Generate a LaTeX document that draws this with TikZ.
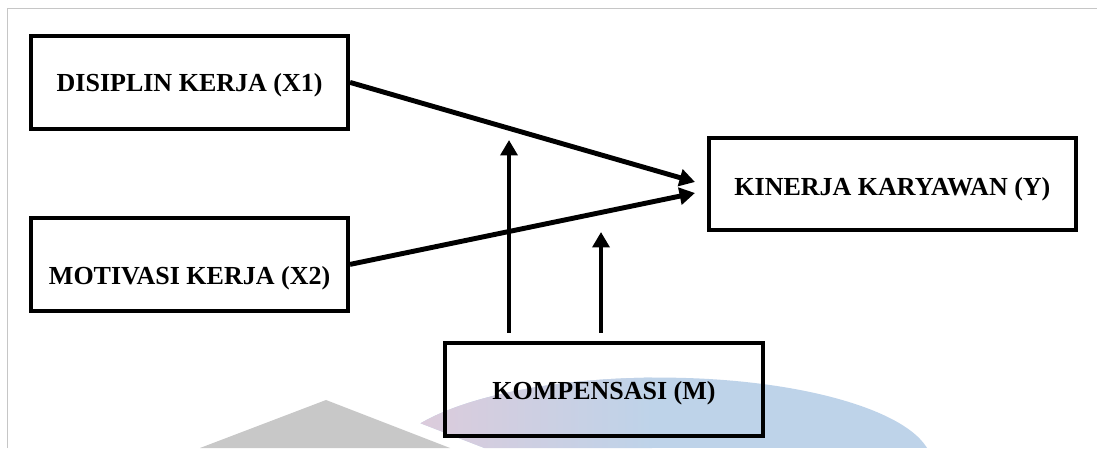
\documentclass[tikz,border=0pt]{standalone}
\usepackage{fontspec}
\setmainfont{Liberation Serif}
\usetikzlibrary{arrows.meta}
\definecolor{wmgray}{RGB}{200,200,200}
\definecolor{wmpink}{RGB}{221,203,219}
\definecolor{wmblue}{RGB}{190,211,233}
\begin{document}
\begin{tikzpicture}[
    box/.style={draw, line width=2.6pt, minimum height=2.32cm, inner sep=0pt,
        text height=17.4pt, text depth=3.8pt,
        font=\fontsize{18.5}{21}\selectfont\bfseries},
    link/.style={line width=3.5pt, -{Triangle[length=11pt,width=12pt]}}
]
    \useasboundingbox (0,0) rectangle (27.425,11.2);

    % frame
    \draw [gray!45, line width=0.7pt] (0.18,0) -- (0.18,11.0) -- (27.425,11.0);

    % watermark
    \fill [wmgray] (5.0,0) -- (8.15,1.2) -- (11.25,0) -- cycle;
    \begin{scope}
        \clip (12.11,0) -- (4.36,3) -- (27,3) -- (27,0) -- cycle;
        \clip (16.5,-0.415) ellipse (6.8 and 2.175);
        \fill [wmblue] (10,0) rectangle (24,3);
        \shade [left color=wmpink, right color=wmblue] (10.3,0) rectangle (16.3,3);
    \end{scope}

    % boxes
    \node (x1) at (4.74,9.14) [box, minimum width=7.93cm] {DISIPLIN KERJA (X1)};
    \node (x2) at (4.74,4.59) [box, minimum width=7.93cm, text height=33pt] {MOTIVASI KERJA (X2)};
    \node (y) at (22.31,6.6) [box, minimum width=9.18cm, minimum height=2.3cm, text height=19.6pt] {KINERJA KARYAWAN (Y)};
    \node (m) at (15.1,1.46) [box, minimum width=7.95cm] {KOMPENSASI (M)};

    % arrow ends
    \coordinate (y1) at (17.375,6.65);
    \coordinate (y2) at (17.375,6.375);
    \coordinate (m1) at (12.725,2.875);
    \coordinate (m1top) at (12.725,7.7);
    \coordinate (m2) at (15.025,2.875);
    \coordinate (m2top) at (15.025,5.4);

    % arrows
    \draw [link] (x1.east) -- (y1);
    \draw [link] (x2.east) -- (y2);
    \draw [link] (m1) -- (m1top);
    \draw [link] (m2) -- (m2top);

\end{tikzpicture}
\end{document}
